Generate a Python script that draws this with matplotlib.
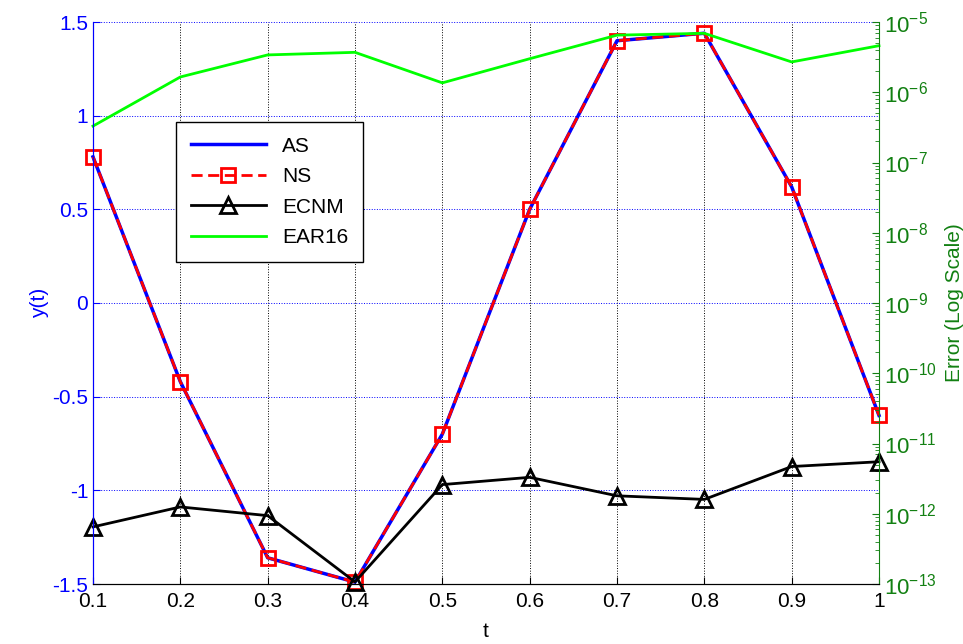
import matplotlib.pyplot as plt
import numpy as np
from matplotlib.ticker import LogLocator, NullFormatter

plt.rcParams['font.family'] = ['Liberation Sans', 'DejaVu Sans']

t = [0.1, 0.2, 0.3, 0.4, 0.5, 0.6, 0.7, 0.8, 0.9, 1.0]
AS = [0.78, -0.42, -1.36, -1.49, -0.70, 0.50, 1.40, 1.44, 0.62, -0.60]
NS = [0.78, -0.42, -1.36, -1.49, -0.70, 0.50, 1.40, 1.44, 0.62, -0.60]
ECNM = [6.5e-13, 1.25e-12, 9.4e-13, 1.07e-13, 2.6e-12, 3.3e-12, 1.8e-12, 1.6e-12, 4.7e-12, 5.5e-12]
EAR16 = [3.3e-7, 1.65e-6, 3.4e-6, 3.7e-6, 1.36e-6, 3.0e-6, 6.5e-6, 6.9e-6, 2.7e-6, 4.6e-6]

green = '#128012'

fig = plt.figure(figsize=(9.63, 6.44), dpi=100)
ax = fig.add_axes([93/963, 60/644, 786/963, 562/644])
ax2 = ax.twinx()

l1, = ax.plot(t, AS, color='blue', lw=2.5, label='AS', clip_on=False)
l2, = ax.plot(t, NS, color='red', lw=2, ls='--', marker='s', ms=10,
              mfc='none', mew=2, label='NS', dashes=(4, 2), clip_on=False)
l3, = ax2.plot(t, ECNM, color='black', lw=2, marker='^', ms=11,
               mfc='none', mew=2, label='ECNM', clip_on=False)
l4, = ax2.plot(t, EAR16, color='#00ff00', lw=2, label='EAR16', clip_on=False)

ax.set_xlim(0.1, 1.0)
ax.set_ylim(-1.5, 1.5)
ax.set_xticks(t)
ax.set_xticklabels(['0.1', '0.2', '0.3', '0.4', '0.5', '0.6', '0.7', '0.8', '0.9', '1'])
ax.set_yticks([-1.5, -1, -0.5, 0, 0.5, 1, 1.5])
ax.set_yticklabels(['-1.5', '-1', '-0.5', '0', '0.5', '1', '1.5'])
ax.tick_params(axis='x', direction='in', labelsize=15, colors='black', length=5, pad=6)
ax.tick_params(axis='y', direction='in', labelsize=15, colors='blue', length=5)
ax.xaxis.grid(True, color='black', ls=':', lw=0.7)
ax.yaxis.grid(True, color='blue', ls=':', lw=0.7)

ax2.set_yscale('log')
ax2.set_ylim(1e-13, 1e-5)
ax2.yaxis.set_major_locator(LogLocator(base=10, numticks=20))
ax2.yaxis.set_minor_locator(LogLocator(base=10, subs=np.arange(2, 10), numticks=20))
ax2.yaxis.set_minor_formatter(NullFormatter())
ax2.tick_params(axis='y', which='major', direction='in', labelsize=16, colors=green, length=5)
ax2.tick_params(axis='y', which='minor', direction='in', colors=green, length=3)

ax.set_xlabel('t', fontsize=15, labelpad=8)
ax.set_ylabel('y(t)', fontsize=15, color='blue', labelpad=2)
ax2.set_ylabel('Error (Log Scale)', fontsize=15, color=green, labelpad=6)

for a in (ax, ax2):
    a.spines['top'].set_visible(False)
ax.spines['left'].set_color('blue')
ax2.spines['left'].set_color('blue')
ax2.spines['right'].set_color(green)
ax.spines['right'].set_visible(False)

leg = ax.legend(handles=[l1, l2, l3, l4], loc='upper left', bbox_to_anchor=(0.1056, 0.822),
                borderaxespad=0, fontsize=15, frameon=True, fancybox=False,
                edgecolor='black', framealpha=1, handlelength=3.6, borderpad=0.7,
                labelspacing=0.55, handletextpad=0.8)
leg.set_zorder(5)

fig.savefig('out.png', dpi=100)
